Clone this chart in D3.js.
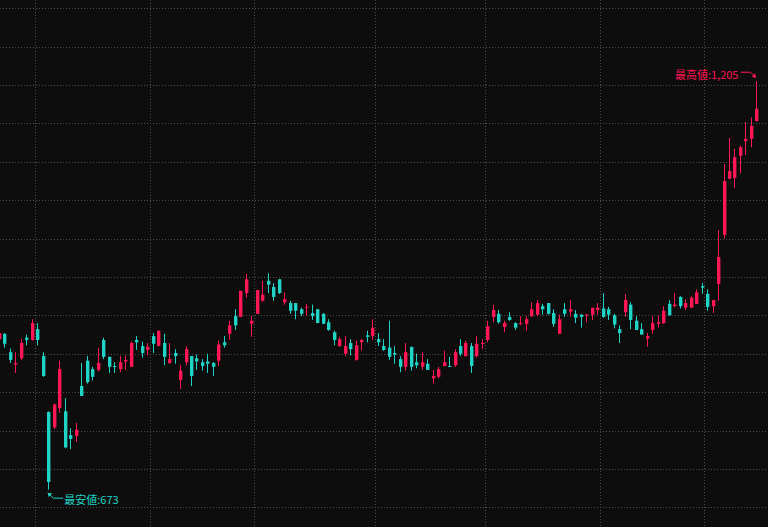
<!DOCTYPE html>
<html><head><meta charset="utf-8">
<script src="https://cdn.jsdelivr.net/npm/d3@7"></script>
<style>html,body{margin:0;padding:0;background:#0d0d0d;overflow:hidden}svg{display:block}</style>
</head><body><svg id="c" width="768" height="527"></svg>
<script>
// Daily OHLC (yen), oldest first
const openP = [869,876,852,836,844,871,868,882,847,774,754,779,775,744,743,808,841,830,829,868,
846,834,830,840,833,868,860,855,873,860,864,838,851,816,839,847,844,839,840,838,
841,865,876,899,898,929,889,902,919,945,937,947,917,916,916,908,910,903,908,902,
891,878,860,850,864,842,865,874,873,869,860,858,851,843,833,859,839,833,837,818,
820,834,834,835,860,847,860,847,863,868,898,902,885,898,890,889,889,899,901,912,
916,903,876,908,905,902,901,900,901,907,909,908,900,882,904,914,893,882,870,881,
889,890,915,912,924,910,910,915,938,928,912,941,1005,1078,1079,1108,1127,1130,1153];
const highP = [881,877,857,852,869,875,895,890,852,775,785,841,792,753,760,838,847,833,858,871,
846,839,847,848,866,873,866,864,877,880,876,864,856,835,860,847,849,843,850,839,
867,873,893,908,932,954,899,933,945,955,942,947,930,919,916,910,915,914,908,903,
895,880,872,873,869,867,869,880,895,877,869,893,860,847,864,859,850,852,843,829,
833,854,846,856,869,867,864,873,869,893,914,907,893,904,891,899,899,917,920,915,
916,908,901,916,920,907,901,902,910,916,929,911,902,887,928,917,899,890,877,899,
900,912,920,929,925,921,925,934,942,934,920,1011,1097,1131,1117,1121,1152,1158,1205];
const lowP = [865,858,838,825,842,861,867,861,820,673,752,773,727,726,735,795,811,815,827,843,
825,825,826,829,833,855,845,848,851,860,835,837,837,804,835,808,829,828,825,821,
834,858,868,881,898,923,872,902,918,929,919,928,914,902,895,899,900,894,890,889,
880,861,859,847,848,841,854,865,868,860,854,842,837,826,828,828,831,829,829,811,
818,834,833,833,847,846,825,845,856,865,891,889,878,893,881,887,880,898,899,901,
901,885,876,898,898,890,884,891,894,901,897,894,883,864,898,882,881,875,859,876,
884,889,900,911,909,907,910,915,928,906,903,919,1000,1078,1066,1085,1109,1119,1153];
const closeP = [877,863,842,838,864,868,890,868,821,683,784,830,728,739,751,795,813,820,838,846,
833,833,839,842,864,865,851,859,863,880,846,843,847,828,856,821,840,834,837,833,
862,861,887,887,932,947,893,933,927,940,924,929,921,906,906,902,911,899,890,889,
881,868,869,860,856,861,868,872,884,865,855,846,849,833,852,833,835,839,829,821,
830,839,833,852,850,864,834,863,864,886,907,891,890,894,884,890,895,908,916,908,
902,889,895,902,908,897,898,901,910,910,898,901,888,877,920,894,881,875,873,890,
891,906,900,914,912,916,923,930,936,911,920,976,1075,1088,1106,1119,1130,1147,1169];
// index of the first trading day of each month (vertical grid)
const monthStarts = [7, 28, 47, 69, 89, 110, 129];
// price grid values
const priceTicks = [650,700,750,800,850,900,950,1000,1050,1100,1150,1200,1250,1300];
const highLabel = "最高値";
const lowLabel = "最安値";

const W = 768, H = 527;
const UP = "#ff1654", DOWN = "#1fd3c6", GRID = "#4d4d4d";
const svg = d3.select("#c");
svg.append("rect").attr("width", W).attr("height", H).attr("fill", "#0d0d0d");

const idx = d3.range(openP.length);
const x = d3.scaleBand().domain(idx).range([-3.9, 759.2]).padding(0);
const y = d3.scaleLinear().domain([650, 1300]).range([507.3, 8.3]);
const cx = i => x(i) + x.bandwidth() / 2;

// horizontal grid via axis
const gy = svg.append("g").attr("class", "grid")
  .call(d3.axisRight(y).tickValues(priceTicks).tickSize(W).tickFormat(""));
gy.select(".domain").remove();
gy.selectAll("line").attr("stroke", GRID).attr("stroke-dasharray", "1,2")
  .attr("shape-rendering", "crispEdges");

// vertical grid at month starts
svg.append("g").selectAll("line").data(monthStarts).join("line")
  .attr("x1", d => Math.round(x(d)) + 0.5).attr("x2", d => Math.round(x(d)) + 0.5)
  .attr("y1", 0).attr("y2", H)
  .attr("stroke", GRID).attr("stroke-dasharray", "1,2");

// candles
const g = svg.append("g");
const col = i => closeP[i] >= openP[i] ? UP : DOWN;
g.selectAll(".wick").data(idx).join("line").attr("class", "wick")
  .attr("x1", i => Math.round(cx(i)) + 0.5).attr("x2", i => Math.round(cx(i)) + 0.5)
  .attr("y1", i => y(highP[i])).attr("y2", i => y(lowP[i]))
  .attr("stroke", col).attr("stroke-width", 1);
g.selectAll(".body").data(idx).join("rect").attr("class", "body")
  .attr("x", i => Math.round(cx(i)) - 1)
  .attr("width", 3.4)
  .attr("y", i => y(Math.max(openP[i], closeP[i])))
  .attr("height", i => Math.max(1, Math.abs(y(openP[i]) - y(closeP[i]))))
  .attr("fill", col);

// annotations
const fmt = d3.format(",");
const hiI = d3.maxIndex(highP), loI = d3.minIndex(lowP);
const font = "'Noto Sans CJK JP', 'Noto Sans', sans-serif";

function arrowHead(tx, ty, fx, fy, color) {
  const a = Math.atan2(ty - fy, tx - fx), L = 4.5, s = 0.6;
  const p = [[tx, ty],
    [tx - L * Math.cos(a - s), ty - L * Math.sin(a - s)],
    [tx - L * Math.cos(a + s), ty - L * Math.sin(a + s)]];
  svg.append("polygon").attr("points", p.map(d => d.join(",")).join(" ")).attr("fill", color);
}

{ // high
  const px = cx(hiI), py = y(highP[hiI]);
  const tip = [px - 0.5, py - 3.5], corner = [px - 6, py - 9], end = [px - 16, py - 9];
  svg.append("polyline").attr("points", [end, corner, tip].map(d => d.join(",")).join(" "))
    .attr("fill", "none").attr("stroke", UP).attr("stroke-width", 1);
  arrowHead(tip[0], tip[1], corner[0], corner[1], UP);
  svg.append("text").attr("x", px - 18).attr("y", py - 2).attr("text-anchor", "end")
    .attr("fill", UP).attr("font-family", font).attr("font-size", 11)
    .text(highLabel + ":" + fmt(highP[hiI]));
}
{ // low
  const px = cx(loI), py = y(lowP[loI]);
  const tip = [px - 0.5, py + 3], corner = [px + 5, py + 8.5], end = [px + 15, py + 8.5];
  svg.append("polyline").attr("points", [end, corner, tip].map(d => d.join(",")).join(" "))
    .attr("fill", "none").attr("stroke", DOWN).attr("stroke-width", 1);
  arrowHead(tip[0], tip[1], corner[0], corner[1], DOWN);
  svg.append("text").attr("x", px + 16).attr("y", py + 14.5).attr("text-anchor", "start")
    .attr("fill", DOWN).attr("font-family", font).attr("font-size", 11)
    .text(lowLabel + ":" + fmt(lowP[loI]));
}
</script></body></html>
